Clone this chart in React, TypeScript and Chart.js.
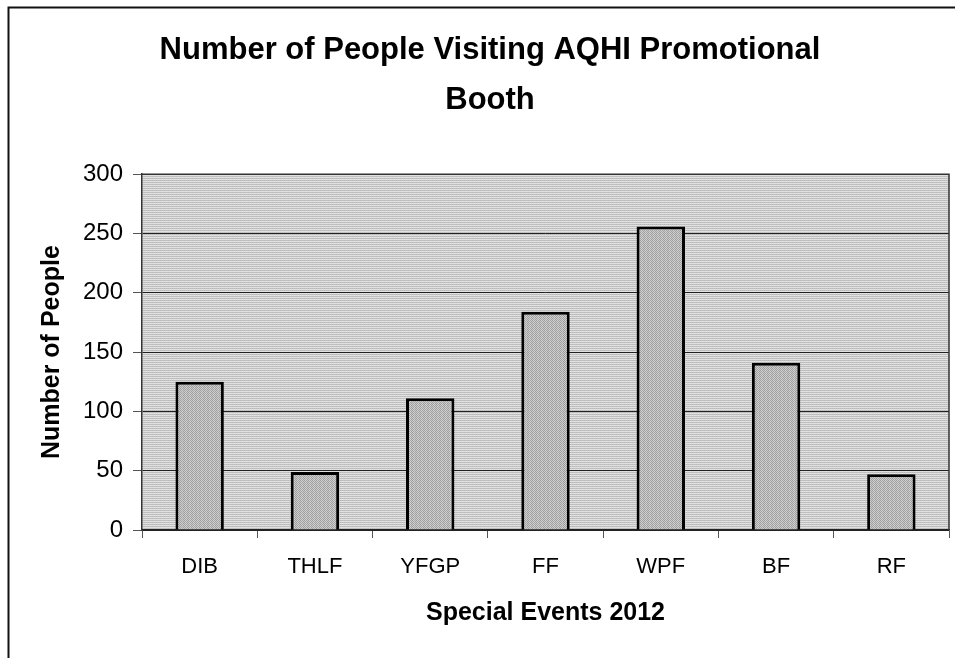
import React, { useEffect, useRef } from "react";
import { Chart, registerables } from "chart.js";

Chart.register(...registerables);

const categories = ["DIB", "THLF", "YFGP", "FF", "WPF", "BF", "RF"];
const visitors = [125, 49, 111, 184, 256, 141, 47];
const yMin = 0;
const yMax = 300;
const yStep = 50;
const titleLines = ["Number of People Visiting AQHI Promotional", "Booth"];
const xTitle = "Special Events 2012";
const yTitle = "Number of People";

const FONT = "'Liberation Sans', Arial, sans-serif";

function makePattern(rows: string[][]): CanvasPattern | string {
  const c = document.createElement("canvas");
  c.width = rows[0].length;
  c.height = rows.length;
  const g = c.getContext("2d");
  if (!g) return "#cccccc";
  rows.forEach((r, y) => r.forEach((col, x) => { g.fillStyle = col; g.fillRect(x, y, 1, 1); }));
  const p = g.createPattern(c, "repeat");
  return p || "#cccccc";
}

export default function App() {
  const ref = useRef<HTMLCanvasElement | null>(null);
  useEffect(() => {
    if (!ref.current) return;
    const bg = makePattern([
      ["#b8b8b8", "#c4c4c4", "#b8b8b8", "#c4c4c4"],
      ["#e4e4e4", "#dcdcdc", "#e8e8e8", "#dcdcdc"],
    ]);
    const barFill = makePattern([
      ["#9c9c9c", "#cfcfcf", "#a8a8a8", "#c8c8c8"],
      ["#cccccc", "#a4a4a4", "#d2d2d2", "#9e9e9e"],
    ]);
    const frame = {
      id: "frame",
      beforeDraw(chart: any) {
        const { ctx, chartArea: a } = chart;
        ctx.save();
        ctx.fillStyle = "#ffffff";
        ctx.fillRect(0, 0, chart.width, chart.height);
        ctx.fillStyle = bg;
        ctx.fillRect(a.left, a.top, a.right - a.left, a.bottom - a.top);
        ctx.strokeStyle = "#111111";
        ctx.lineWidth = 2;
        ctx.beginPath();
        ctx.moveTo(8.5, chart.height);
        ctx.lineTo(8.5, 7.5);
        ctx.lineTo(chart.width, 7.5);
        ctx.stroke();
        ctx.restore();
      },
      afterDraw(chart: any) {
        const { ctx, chartArea: a } = chart;
        ctx.save();
        ctx.strokeStyle = "#333333";
        ctx.lineWidth = 1.5;
        ctx.beginPath();
        ctx.moveTo(a.left, a.top);
        ctx.lineTo(a.right, a.top);
        ctx.lineTo(a.right, a.bottom);
        ctx.stroke();
        ctx.restore();
      },
    };
    const chart = new Chart(ref.current, {
      type: "bar",
      data: {
        labels: categories,
        datasets: [
          {
            data: visitors,
            backgroundColor: barFill as any,
            borderColor: "#000000",
            borderWidth: 3,
            barPercentage: 0.42,
            categoryPercentage: 1,
          },
        ],
      },
      options: {
        responsive: false,
        animation: false,
        layout: { padding: { left: 31, right: 6, top: 0, bottom: 0 } },
        plugins: {
          legend: { display: false },
          tooltip: { enabled: false },
          title: {
            display: true,
            text: titleLines,
            color: "#000000",
            font: { family: FONT, size: 31, weight: "bold", lineHeight: 1.6 },
            padding: { top: 26, bottom: 49 },
          },
        },
        scales: {
          x: {
            afterFit(scale: any) { scale.height = 128; },
            grid: { drawOnChartArea: false, drawTicks: true, tickLength: 8, color: "#555555", offset: true },
            border: { display: true, color: "#222222", width: 1.5 },
            ticks: { color: "#000000", font: { family: FONT, size: 22 }, padding: 16, maxRotation: 0 },
            title: {
              display: true,
              text: xTitle,
              color: "#000000",
              font: { family: FONT, size: 25, weight: "bold", lineHeight: 1.2 },
              padding: { top: 0, bottom: 30 },
            },
          },
          y: {
            min: yMin,
            max: yMax,
            afterFit(scale: any) { scale.width = 111; },
            grid: { color: "#222222", lineWidth: 1, drawTicks: true, tickLength: 9, tickColor: "#555555" },
            border: { display: true, color: "#333333", width: 1.5 },
            ticks: { stepSize: yStep, color: "#000000", font: { family: FONT, size: 24 }, padding: 10 },
            title: {
              display: true,
              text: yTitle,
              color: "#000000",
              font: { family: FONT, size: 25, weight: "bold", lineHeight: 1.2 },
              padding: { top: 6, bottom: 0 },
            },
          },
        },
      },
      plugins: [frame],
    } as any);
    return () => chart.destroy();
  }, []);
  return (
    <canvas
      ref={ref}
      width={955}
      height={658}
      style={{ position: "absolute", left: 0, top: 0, width: 955, height: 658 }}
    />
  );
}
